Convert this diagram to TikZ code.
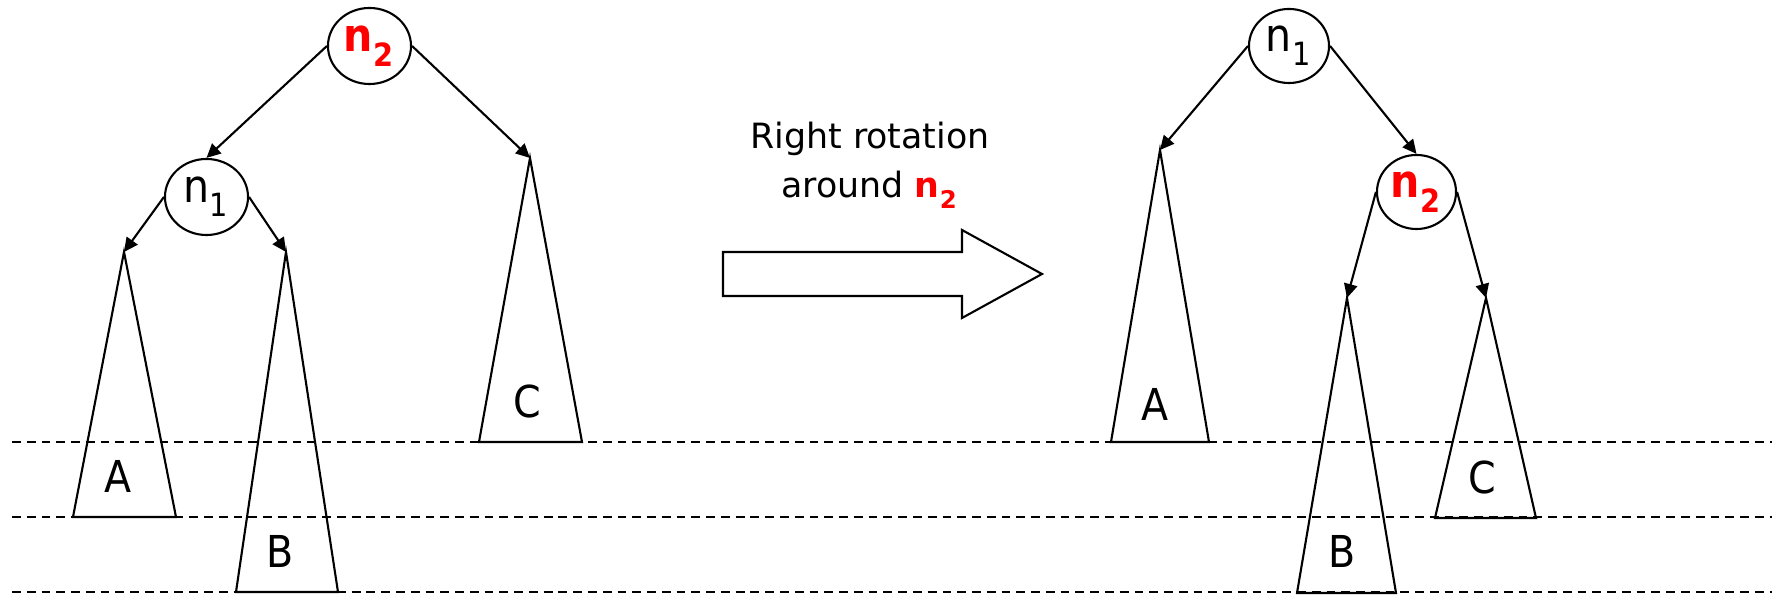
\documentclass[tikz,border=0pt]{standalone}
\usepackage{fontspec}
\usepackage{xcolor}
\setmainfont{DejaVu Sans}
\newfontfamily\narrowfont{DejaVu Sans}[FakeStretch=0.9]
\usetikzlibrary{arrows.meta, shapes.geometric}
\definecolor{pivotred}{HTML}{FF0000}
\newcommand{\lowsub}[1]{\raisebox{-0.12em}{\textsubscript{#1}}}
\newcommand{\plainkey}[1]{n\lowsub{#1}}
\newcommand{\pivotkey}[1]{\textcolor{pivotred}{\bfseries n\lowsub{#1}}}

\begin{document}
\begin{tikzpicture}[
    x=0.01cm, y=-0.01cm,
    keynode/.style={ellipse, draw, line width=0.6pt, inner sep=0pt, minimum width=#1, minimum height=0.76cm, font=\narrowfont\fontsize{13}{15}\selectfont},
    keynode/.default=0.83cm,
    edge/.style={-{Triangle[length=4pt, width=3.8pt]}, line width=0.6pt},
    subtree/.style={line width=0.6pt, line join=miter},
    treelabel/.style={anchor=base, inner sep=0pt, font=\narrowfont\fontsize{12.5}{14}\selectfont},
    heightline/.style={line width=0.6pt, dash pattern=on 2.5pt off 1.7pt}
]
\useasboundingbox (0,0) rectangle (1772,595);

% height levels
\draw[heightline] (12,442) -- (1772,442);
\draw[heightline] (12,517) -- (1772,517);
\draw[heightline] (12,592) -- (1772,592);

% tree before rotation
\node[keynode] (ln2) at (369.5,46) {\pivotkey{2}};
\node[keynode] (ln1) at (206.5,197) {\plainkey{1}};
\coordinate (lA) at (124,252);
\coordinate (lB) at (286,252);
\coordinate (lC) at (530,158);
\draw[subtree] (lA) -- (73,517) -- (176,517) -- cycle;
\draw[subtree] (lB) -- (236,592) -- (338,592) -- cycle;
\draw[subtree] (lC) -- (479,442) -- (582,442) -- cycle;
\node[treelabel] (labA) at (118,493) {A};
\node[treelabel] (labB) at (280,568) {B};
\node[treelabel] (labC) at (527,418) {C};
\draw[edge] (ln2.west) -- (ln1.north);
\draw[edge] (ln2.east) -- (lC);
\draw[edge] (ln1.west) -- (lA);
\draw[edge] (ln1.east) -- (lB);

% rotation arrow
\node[font=\fontsize{9.9}{14.2}\selectfont, align=center, anchor=base, inner sep=0pt] (rot) at (870,198) {Right rotation\\around \pivotkey{2}};
\draw[line width=0.6pt] (723,252) -- (962,252) -- (962,230) -- (1042,274) -- (962,318) -- (962,296) -- (723,296) -- cycle;

% tree after rotation
\node[keynode=0.8cm, minimum height=0.74cm] (rn1) at (1289,46) {\plainkey{1}};
\node[keynode=0.79cm, minimum height=0.74cm] (rn2) at (1416.5,192) {\pivotkey{2}};
\coordinate (rA) at (1160,150);
\coordinate (rB) at (1347,298);
\coordinate (rC) at (1486,298);
\draw[subtree] (rA) -- (1111,442) -- (1209,442) -- cycle;
\draw[subtree] (rB) -- (1297,593) -- (1396,593) -- cycle;
\draw[subtree] (rC) -- (1435,518) -- (1536,518) -- cycle;
\node[treelabel] (rlabA) at (1155,421) {A};
\node[treelabel] (rlabB) at (1342,568) {B};
\node[treelabel] (rlabC) at (1482,494) {C};
\draw[edge] (rn1.west) -- (rA);
\draw[edge] (rn1.east) -- (rn2.north);
\draw[edge] (rn2.west) -- (rB);
\draw[edge] (rn2.east) -- (rC);
\end{tikzpicture}
\end{document}
